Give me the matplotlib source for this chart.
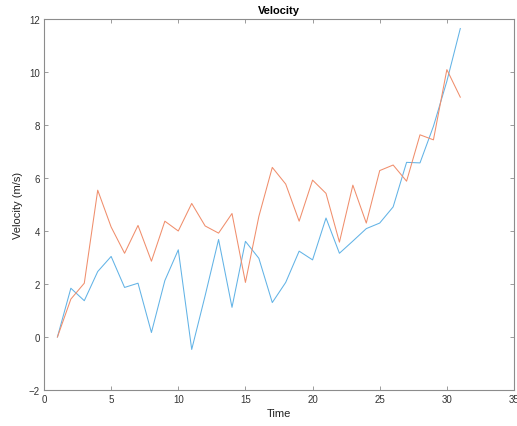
import matplotlib.pyplot as plt

TIME = list(range(1, 32))
VEL_BLUE = [0, 1.84, 1.37, 2.47, 3.04, 1.87, 2.03, 0.17, 2.13, 3.29,
            -0.47, 1.56, 3.68, 1.12, 3.61, 2.97, 1.30, 2.06, 3.24, 2.91,
            4.49, 3.16, 3.62, 4.09, 4.30, 4.91, 6.59, 6.57, 7.95, 9.65, 11.64]
VEL_ORANGE = [0, 1.43, 2.03, 5.54, 4.15, 3.16, 4.21, 2.86, 4.37, 4.00,
              5.04, 4.19, 3.92, 4.66, 2.06, 4.55, 6.40, 5.77, 4.37, 5.92,
              5.42, 3.58, 5.73, 4.30, 6.28, 6.49, 5.88, 7.63, 7.44, 10.09, 9.05]

X_TICKS = [0, 5, 10, 15, 20, 25, 30, 35]
Y_TICKS = [-2, 0, 2, 4, 6, 8, 10, 12]

plt.rcParams["font.family"] = ["Liberation Sans", "DejaVu Sans"]


def main():
    fig = plt.figure(figsize=(5.17, 4.27), dpi=100)
    ax = fig.add_axes([44 / 517, 1 - 391 / 427, 470 / 517, 371 / 427])

    ax.plot(TIME, VEL_BLUE, color="#62b3e6", lw=0.75)
    ax.plot(TIME, VEL_ORANGE, color="#f08e6c", lw=0.75)

    ax.set_xlim(0, 35)
    ax.set_ylim(-2, 12)
    ax.set_xticks(X_TICKS)
    ax.set_yticks(Y_TICKS)

    for s in ax.spines.values():
        s.set_color("#8c8c8c")
        s.set_linewidth(0.8)
    ax.tick_params(direction="in", length=3, width=0.6, color="#8c8c8c",
                   labelsize=7, labelcolor="#333333", top=True, right=True, pad=3)

    ax.set_title("Velocity", fontsize=8, fontweight="bold", pad=4)
    ax.set_xlabel("Time", fontsize=8, color="#222222", labelpad=3)
    ax.set_ylabel("Velocity (m/s)", fontsize=8, color="#222222", labelpad=4)

    fig.savefig("out.png", dpi=100)


if __name__ == "__main__":
    main()
